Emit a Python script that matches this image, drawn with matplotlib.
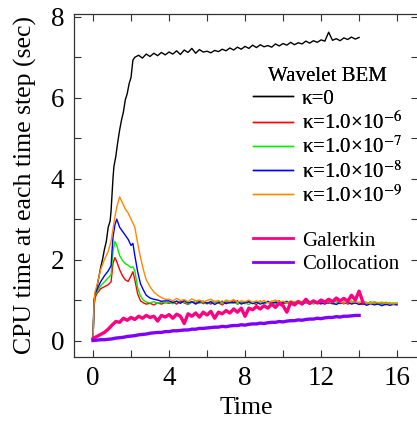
import numpy as np
import matplotlib
matplotlib.use("Agg")
import matplotlib.pyplot as plt
from matplotlib.ticker import MultipleLocator

plt.rcParams['font.family'] = ['Liberation Serif', 'DejaVu Serif']
plt.rcParams['mathtext.fontset'] = 'stix'

# ---- data ----
# kappa = 0 (black)
t_k0 = [0, 0.05, 0.1, 0.2, 0.3, 0.4, 0.5, 0.6, 0.7, 0.8, 0.9, 0.95, 1.0, 1.05, 1.1, 1.2, 1.3,
        1.4, 1.5, 1.6, 1.7, 1.8, 1.9, 2.0, 2.1, 2.2] \
    + list(np.round(np.arange(2.4, 14.01, 0.2), 2))
v_k0 = [0, 1.0, 1.1, 1.3, 1.55, 1.8, 2.0, 2.25, 2.45, 2.8, 2.95, 3.2, 3.6, 4.0, 4.3, 4.55, 4.9,
        5.2, 5.45, 5.65, 5.95, 6.1, 6.35, 6.5, 6.93, 7.0,
        7.05, 6.98, 7.08, 7.02, 7.10, 7.04, 7.12, 7.06, 7.13, 7.08, 7.16, 7.07, 7.18, 7.12, 7.22,
        7.10, 7.19, 7.13, 7.15, 7.11, 7.17, 7.14, 7.20, 7.16, 7.23, 7.18, 7.25, 7.20, 7.27, 7.22,
        7.30, 7.24, 7.31, 7.26, 7.29, 7.25, 7.33, 7.28, 7.34, 7.30, 7.37, 7.31, 7.36, 7.33, 7.40,
        7.35, 7.41, 7.37, 7.43, 7.40, 7.62, 7.42, 7.46, 7.41, 7.48, 7.44, 7.50, 7.45, 7.49]

# early part shared by the four kappa > 0 runs
t_early = [0, 0.05, 0.1, 0.2, 0.4, 0.6, 0.8, 0.95, 1.05, 1.15, 1.25, 1.4, 1.55, 1.7, 1.85,
           2.0, 2.1, 2.2, 2.35, 2.5, 2.65, 2.8, 3.0, 3.2, 3.4, 3.6, 3.8]
t_late = list(np.round(np.arange(4.0, 16.01, 0.2), 2))
t_kap = t_early + t_late

v_k6 = [0, 0.8, 1.05, 1.15, 1.28, 1.33, 1.38, 1.45, 1.9, 2.05, 1.95, 1.75, 1.6, 1.5, 1.46,
        1.6, 1.7, 1.5, 1.15, 0.98, 0.93, 0.9, 0.92, 0.88, 0.93, 0.9, 0.94,
        0.92, 0.95, 0.9, 0.97, 0.93, 0.89, 0.96, 0.92, 0.98, 0.91,
        0.94, 0.9, 0.97, 0.93, 0.88, 0.95, 0.92, 0.99, 0.9, 0.94,
        0.91, 0.96, 0.93, 0.89, 0.97, 0.92, 0.95, 0.9, 0.94, 0.98,
        0.91, 0.93, 0.96, 0.9, 0.94, 0.92, 0.97, 0.89, 0.95, 0.93,
        0.9, 0.96, 0.92, 0.94, 0.99, 0.91, 0.95, 0.9, 0.93, 0.96,
        0.92, 0.89, 0.94, 0.91, 0.95, 0.9, 0.93, 0.88, 0.92, 0.9,
        0.91]
v_k7 = [0, 0.8, 1.1, 1.2, 1.35, 1.45, 1.55, 1.62, 2.2, 2.45, 2.35, 2.1, 1.98, 1.9, 1.86,
        1.8, 1.82, 1.72, 1.3, 1.1, 1.0, 0.95, 0.93, 0.96, 0.92, 0.95, 0.93,
        0.95, 0.91, 0.98, 0.93, 0.96, 0.9, 0.94, 0.99, 0.92, 0.95,
        0.9, 0.97, 0.93, 0.96, 0.91, 0.98, 0.92, 0.94, 0.9, 0.96,
        0.93, 0.89, 0.95, 0.92, 0.98, 0.91, 0.94, 0.97, 0.9, 0.93,
        0.96, 0.92, 0.9, 0.95, 0.91, 0.97, 0.93, 0.95, 0.9, 0.94,
        0.97, 0.92, 0.95, 0.9, 0.93, 0.96, 0.91, 0.94, 0.98, 0.92,
        0.95, 0.93, 0.9, 0.96, 0.92, 0.94, 0.89, 0.95, 0.91, 0.93,
        0.92]
v_k8 = [0, 0.8, 1.15, 1.25, 1.45, 1.6, 1.72, 1.85, 2.55, 2.85, 3.0, 2.8, 2.7, 2.6, 2.5,
        2.35, 2.4, 2.1, 1.7, 1.4, 1.25, 1.12, 1.05, 1.02, 1.0, 0.97, 0.98,
        0.98, 0.94, 0.97, 0.92, 0.99, 0.93, 0.96, 0.9, 0.95, 0.97,
        0.92, 0.96, 0.89, 0.94, 0.97, 0.91, 0.95, 0.93, 0.98, 0.9,
        0.94, 0.96, 0.91, 0.95, 0.9, 0.93, 0.97, 0.92, 0.95, 0.89,
        0.94, 0.97, 0.91, 0.93, 0.96, 0.9, 0.94, 0.92, 0.96, 0.91,
        0.93, 0.9, 0.95, 0.92, 0.89, 0.94, 0.91, 0.96, 0.9, 0.93,
        0.89, 0.92, 0.87, 0.91, 0.88, 0.9, 0.86, 0.9, 0.87, 0.89,
        0.88]
v_k9 = [0, 0.85, 1.2, 1.35, 1.75, 2.0, 2.2, 2.45, 2.75, 3.05, 3.3, 3.55, 3.4, 3.25, 3.15,
        3.0, 2.9, 2.8, 2.4, 2.05, 1.75, 1.5, 1.33, 1.2, 1.12, 1.06, 1.02,
        1.02, 0.98, 1.04, 0.99, 1.01, 0.96, 1.03, 0.98, 1.0, 0.95,
        0.99, 1.02, 0.96, 0.99, 0.94, 1.0, 0.97, 1.01, 0.95, 0.98,
        0.96, 1.0, 0.94, 0.98, 0.95, 0.99, 0.93, 0.97, 1.0, 0.95,
        0.97, 0.93, 0.98, 0.95, 0.99, 0.94, 0.96, 0.92, 0.97, 0.95,
        0.98, 0.93, 0.96, 0.94, 0.99, 0.95, 0.92, 0.97, 0.94, 0.96,
        0.93, 0.97, 0.94, 0.91, 0.96, 0.93, 0.95, 0.92, 0.94, 0.9,
        0.93]

# Galerkin (pink)
t_gal = list(np.round(np.arange(0, 14.21, 0.2), 2))
v_gal = [0.05, 0.1, 0.15, 0.2, 0.28, 0.38, 0.47, 0.45, 0.55, 0.5,
         0.57, 0.52, 0.6, 0.55, 0.62, 0.57, 0.6, 0.48, 0.62, 0.58,
         0.64, 0.55, 0.65, 0.6, 0.42, 0.66, 0.6, 0.68, 0.58, 0.7,
         0.63, 0.72, 0.55, 0.7, 0.66, 0.74, 0.68, 0.78, 0.7, 0.8,
         0.6, 0.8, 0.76, 0.84, 0.78, 0.86, 0.8, 0.9, 0.82, 0.92,
         0.86, 0.7, 0.94, 0.88, 0.96, 0.9, 1.02, 0.92, 0.98, 0.93,
         1.0, 0.95, 1.02, 0.96, 1.05, 0.98, 1.04, 0.97, 1.12, 1.0,
         1.22, 0.95]

# Collocation (purple)
t_col = list(np.round(np.arange(0, 14.01, 0.2), 2))
v_col = [0.0, 0.01, 0.02, 0.02, 0.03, 0.04, 0.06, 0.07, 0.08, 0.1,
         0.11, 0.12, 0.14, 0.15, 0.16, 0.18, 0.19, 0.2, 0.2, 0.22,
         0.22, 0.24, 0.24, 0.25, 0.26, 0.26, 0.28, 0.28, 0.3, 0.3,
         0.31, 0.32, 0.33, 0.33, 0.35, 0.34, 0.36, 0.37, 0.37, 0.39,
         0.38, 0.4, 0.41, 0.41, 0.43, 0.42, 0.44, 0.45, 0.45, 0.47,
         0.46, 0.48, 0.49, 0.49, 0.51, 0.5, 0.52, 0.53, 0.53, 0.55,
         0.54, 0.56, 0.57, 0.57, 0.59, 0.58, 0.6, 0.6, 0.61, 0.62,
         0.62]

wavelet_labels = [r'κ=0', r'κ=1.0×10$^{-6}$', r'κ=1.0×10$^{-7}$',
                  r'κ=1.0×10$^{-8}$', r'κ=1.0×10$^{-9}$']
other_labels = ['Galerkin', 'Collocation']

# ---- figure ----
W, H = 417, 421
fig = plt.figure(figsize=(W / 100, H / 100), dpi=100)
ax = fig.add_axes([74 / W, 1 - 356.7 / H, 344 / W, 342.7 / H])

l0, = ax.plot(t_k0, v_k0, color='black', lw=1.0)
l6, = ax.plot(t_kap, v_k6, color='#ff0000', lw=1.0)
l7, = ax.plot(t_kap, v_k7, color='#00ee00', lw=1.0)
l8, = ax.plot(t_kap, v_k8, color='#0000ff', lw=1.0)
l9, = ax.plot(t_kap, v_k9, color='#ff8800', lw=1.0)
lg, = ax.plot(t_gal, v_gal, color='#ff0080', lw=2.4)
lc, = ax.plot(t_col, v_col, color='#8000ff', lw=2.4)

ax.set_xlim(-1, 17.1)
ax.set_ylim(-0.4, 8.07)
ax.xaxis.set_major_locator(MultipleLocator(4))
ax.xaxis.set_minor_locator(MultipleLocator(2))
ax.yaxis.set_major_locator(MultipleLocator(2))
ax.yaxis.set_minor_locator(MultipleLocator(1))
ax.tick_params(which='both', direction='in', top=True, right=True,
               length=5, width=0.8, color='#333333', labelsize=19.5, pad=7)
for s in ax.spines.values():
    s.set_color('#333333')
    s.set_linewidth(0.9)

ax.set_xlabel('Time', fontsize=18.5, labelpad=4)
ax.set_ylabel('CPU time at each time step (sec)', fontsize=18.5, labelpad=10)

leg1 = fig.legend([l0, l6, l7, l8, l9], wavelet_labels, title='Wavelet BEM',
                  loc='upper left', bbox_to_anchor=(253 / W, 1 - 67 / H),
                  frameon=False, fontsize=15, title_fontsize=15,
                  handlelength=1.9, handletextpad=0.45, labelspacing=0.14,
                  borderpad=0, borderaxespad=0)
for h in leg1.get_lines():
    h.set_linewidth(1.0)
fig.add_artist(leg1)
leg2 = fig.legend([lg, lc], other_labels,
                  loc='upper left', bbox_to_anchor=(253 / W, 1 - 231 / H),
                  frameon=False, fontsize=15,
                  handlelength=1.9, handletextpad=0.45, labelspacing=0.2,
                  borderpad=0, borderaxespad=0)
for h in leg2.get_lines():
    h.set_linewidth(2.0)

fig.savefig('out.png', dpi=100)
